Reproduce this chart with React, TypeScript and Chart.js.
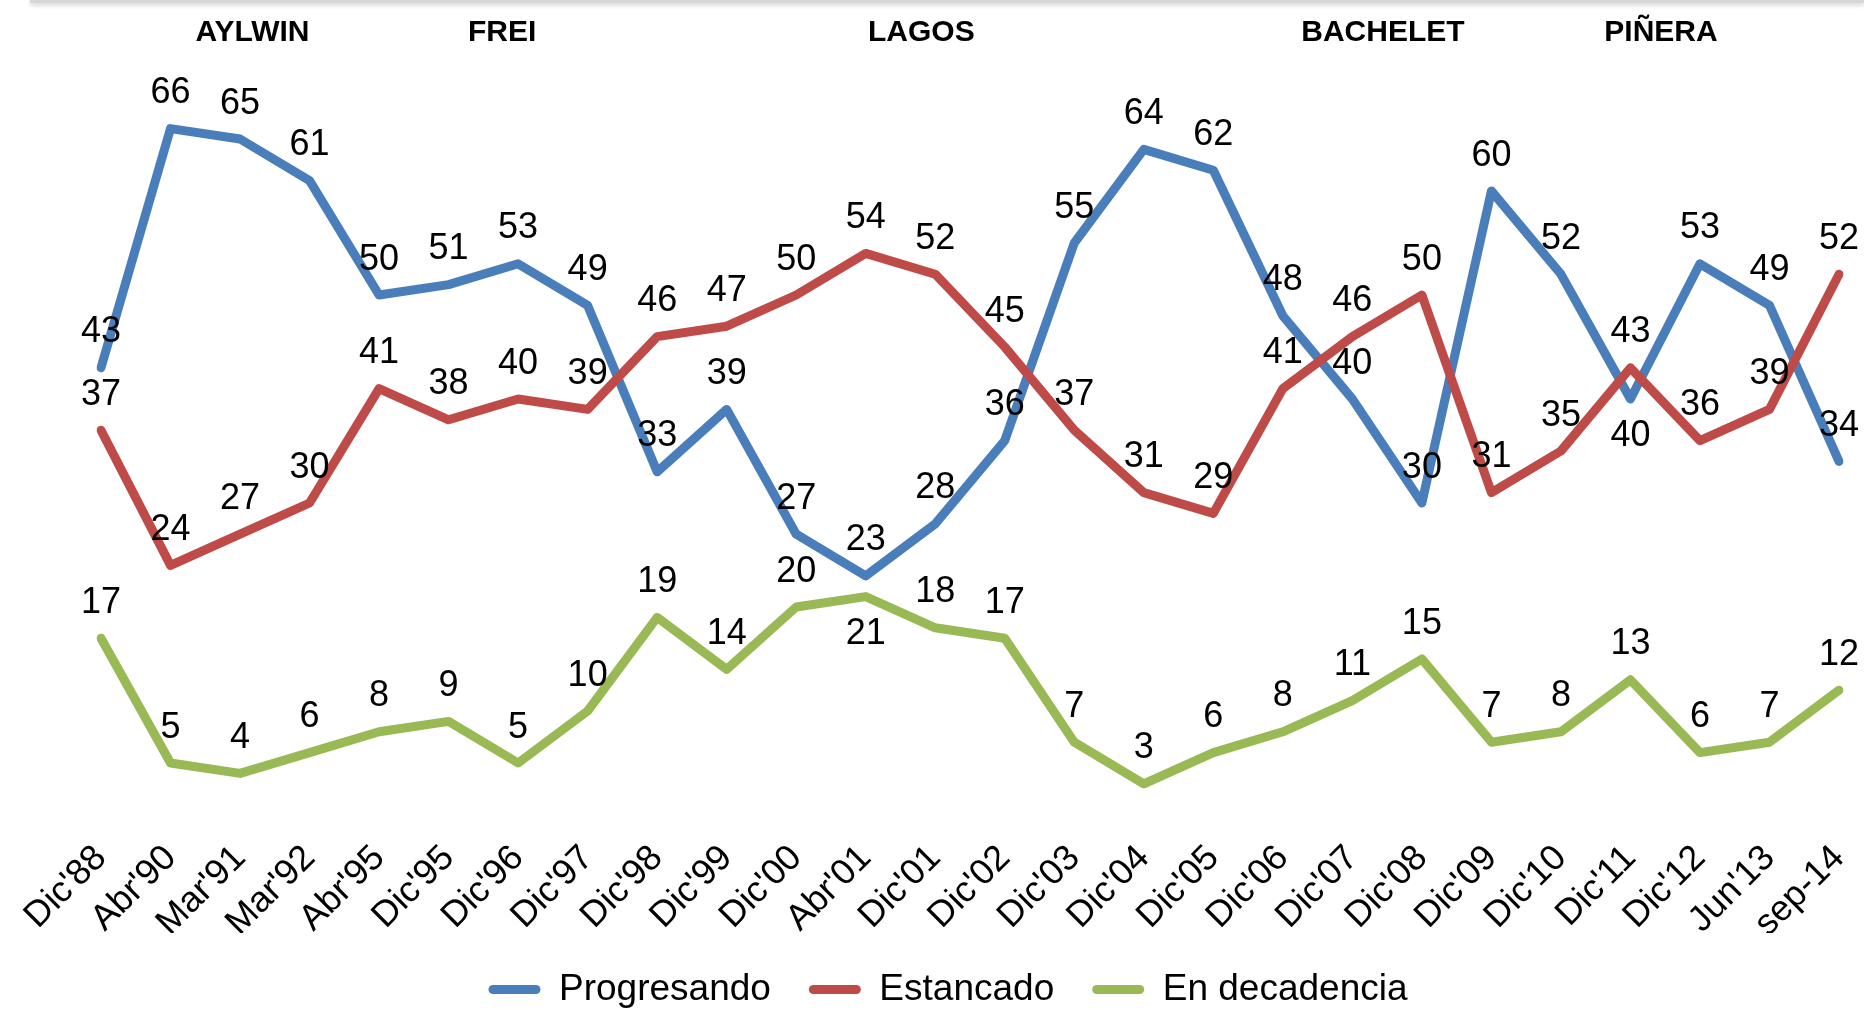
import React, { useEffect, useRef } from 'react';
import { Chart, registerables } from 'chart.js';

Chart.register(...registerables);

const categories = [
  "Dic'88", "Abr'90", "Mar'91", "Mar'92", "Abr'95", "Dic'95", "Dic'96", "Dic'97", "Dic'98",
  "Dic'99", "Dic'00", "Abr'01", "Dic'01", "Dic'02", "Dic'03", "Dic'04", "Dic'05", "Dic'06",
  "Dic'07", "Dic'08", "Dic'09", "Dic'10", "Dic'11", "Dic'12", "Jun'13", "sep-14",
];

const progresando = [43, 66, 65, 61, 50, 51, 53, 49, 33, 39, 27, 23, 28, 36, 55, 64, 62, 48, 40, 30, 60, 52, 40, 53, 49, 34];
const estancado = [37, 24, 27, 30, 41, 38, 40, 39, 46, 47, 50, 54, 52, 45, 37, 31, 29, 41, 46, 50, 31, 35, 43, 36, 39, 52];
const enDecadencia = [17, 5, 4, 6, 8, 9, 5, 10, 19, 14, 20, 21, 18, 17, 7, 3, 6, 8, 11, 15, 7, 8, 13, 6, 7, 12];

// indices whose value label sits below the point (all others sit above)
const progresandoBelow = [22];
const estancadoBelow: number[] = [];
const enDecadenciaBelow = [11];

const presidentNames = ['AYLWIN', 'FREI', 'LAGOS', 'BACHELET', 'PIÑERA'];
const presidentAt = [2.18, 5.77, 11.8, 18.44, 22.44]; // in category-index units

const FONT = "'Liberation Sans', Arial, sans-serif";
const BLUE = '#4A7EBB';
const RED = '#BE4B48';
const GREEN = '#98B954';

const belowSets = [progresandoBelow, estancadoBelow, enDecadenciaBelow];

const valueLabelPlugin = {
  id: 'valueLabels',
  afterDatasetsDraw(chart: any) {
    const ctx = chart.ctx;
    ctx.save();
    ctx.font = `36px ${FONT}`;
    ctx.fillStyle = '#000';
    ctx.textAlign = 'center';
    ctx.textBaseline = 'alphabetic';
    chart.data.datasets.forEach((ds: any, di: number) => {
      const meta = chart.getDatasetMeta(di);
      const below = belowSets[di] || [];
      meta.data.forEach((pt: any, i: number) => {
        const v = ds.data[i];
        const cy = below.includes(i) ? pt.y + 34 : pt.y - 38.5;
        ctx.fillText(String(v), pt.x, cy + 13);
      });
    });
    ctx.restore();
  },
};

const presidentPlugin = {
  id: 'presidents',
  afterDraw(chart: any) {
    const ctx = chart.ctx;
    const xs = chart.scales.x;
    ctx.save();
    ctx.font = `bold 30px ${FONT}`;
    ctx.fillStyle = '#000';
    ctx.textAlign = 'center';
    ctx.textBaseline = 'alphabetic';
    presidentNames.forEach((name, k) => {
      ctx.fillText(name, xs.getPixelForValue(presidentAt[k]), 41);
    });
    ctx.restore();
  },
};

export default function App() {
  const ref = useRef<HTMLCanvasElement>(null);

  useEffect(() => {
    const canvas = ref.current;
    if (!canvas) return;
    const mk = (label: string, data: number[], color: string, order: number) => ({
      label,
      data,
      borderColor: color,
      backgroundColor: color,
      borderWidth: 9,
      borderCapStyle: 'round' as const,
      borderJoinStyle: 'round' as const,
      pointRadius: 0,
      pointHoverRadius: 0,
      tension: 0,
      fill: false,
      order,
    });
    const chart = new Chart(canvas, {
      type: 'line',
      data: {
        labels: categories,
        datasets: [
          mk('Progresando', progresando, BLUE, 3),
          mk('Estancado', estancado, RED, 2),
          mk('En decadencia', enDecadencia, GREEN, 1),
        ],
      },
      options: {
        responsive: false,
        animation: false,
        devicePixelRatio: 1,
        layout: { padding: { left: 57, right: 25, top: 87, bottom: 0 } },
        scales: {
          x: {
            type: 'category',
            offset: false,
            grid: { display: false, drawTicks: false },
            border: { display: false },
            ticks: {
              autoSkip: false,
              maxRotation: 45,
              minRotation: 45,
              padding: 22,
              color: '#000',
              font: { family: FONT, size: 36 },
            },
            afterFit: (s: any) => {
              s.height = 118;
              s.paddingLeft = 101;
              s.paddingRight = 25;
            },
          },
          y: { display: false, min: 0, max: 70 },
        },
        plugins: {
          tooltip: { enabled: false },
          legend: {
            display: true,
            position: 'bottom',
            align: 'center',
            labels: {
              color: '#000',
              font: { family: FONT, size: 37 },
              boxWidth: 52,
              boxHeight: 9,
              padding: 38,
              sort: (a: any, b: any) => a.datasetIndex - b.datasetIndex,
              generateLabels: (ch: any) => {
                const items = Chart.defaults.plugins.legend.labels.generateLabels(ch);
                return items.map((it: any) => ({
                  ...it,
                  fillStyle: it.strokeStyle,
                  lineWidth: 0,
                  borderRadius: 4.5,
                }));
              },
            },
          },
        },
      } as any,
      plugins: [valueLabelPlugin, presidentPlugin],
    });
    return () => chart.destroy();
  }, []);

  return (
    <div
      style={{
        position: 'fixed',
        left: 0,
        top: 0,
        width: 1864,
        height: 1010,
        overflow: 'hidden',
        background: '#fff',
      }}
    >
      <div
        style={{
          position: 'absolute',
          left: 30,
          top: 0,
          width: 1834,
          height: 3,
          background: '#d6d6d6',
          boxShadow: '0 2px 4px rgba(0,0,0,0.22)',
        }}
      />
      <canvas ref={ref} width={1864} height={1018} style={{ display: 'block', width: 1864, height: 1018 }} />
    </div>
  );
}
